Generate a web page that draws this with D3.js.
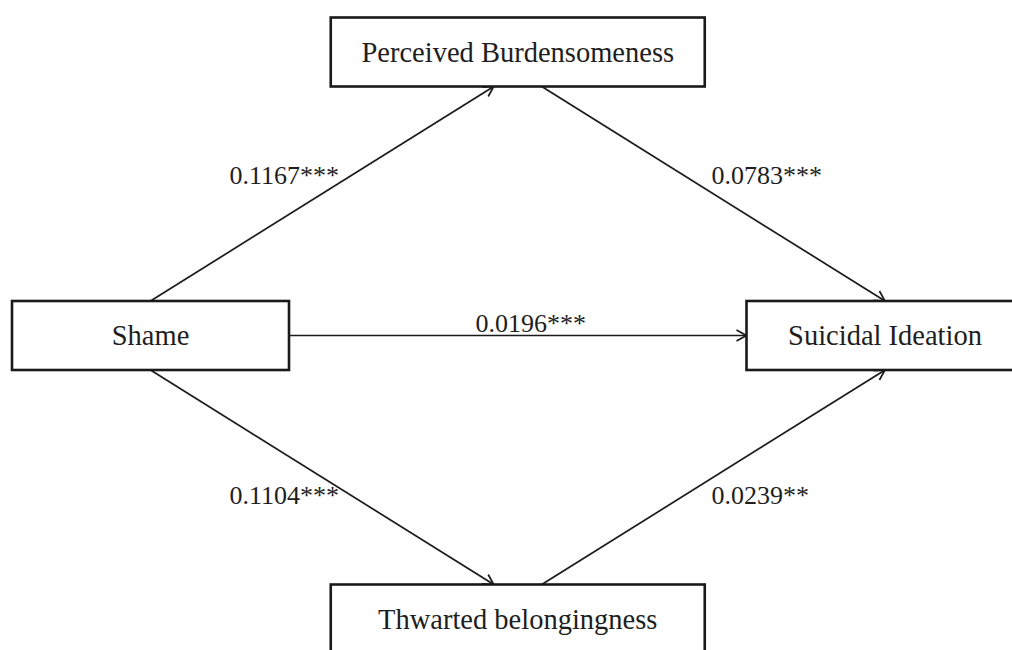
<!DOCTYPE html>
<html>
<head>
<meta charset="utf-8">
<script src="https://cdn.jsdelivr.net/npm/d3@7"></script>
<style>
  html, body { margin: 0; padding: 0; background: #fff; }
  svg { display: block; }
</style>
</head>
<body>
<div id="chart"></div>
<script>
// Nodes on a 3x3 grid (col, row)
const nodeNames = ['Shame', 'Perceived Burdensomeness', 'Suicidal Ideation', 'Thwarted belongingness'];
const nodeCols = [0, 1, 2, 1];
const nodeRows = [1, 0, 1, 2];

// Paths: source index -> target index with coefficient labels
const pathFrom = [0, 1, 0, 0, 3];
const pathTo = [1, 2, 2, 3, 2];
const pathCoef = ['0.1167***', '0.0783***', '0.0196***', '0.1104***', '0.0239**'];

const width = 1012;
const height = 650;

const svg = d3.select('#chart').append('svg')
  .attr('width', width).attr('height', height)
  .attr('viewBox', `0 0 ${width} ${height}`);

const x = d3.scaleLinear().domain([0, 2]).range([150.5, 885]);
const y = d3.scaleLinear().domain([0, 2]).range([52, 619]);

// side boxes are narrower than the middle column ones
const boxW = (col) => (col === 1 ? 374 : 277);
const boxH = 69;

svg.append('defs').append('marker')
  .attr('id', 'arrow')
  .attr('markerUnits', 'userSpaceOnUse')
  .attr('viewBox', '-12 -7 14 14')
  .attr('refX', 0).attr('refY', 0)
  .attr('markerWidth', 14).attr('markerHeight', 14)
  .attr('orient', 'auto')
  .append('path')
  .attr('d', 'M-10,-5.5L0,0L-10,5.5')
  .attr('fill', 'none')
  .attr('stroke', '#1a1a1a')
  .attr('stroke-width', 1.7);

const nodes = nodeNames.map((name, i) => ({
  name,
  cx: x(nodeCols[i]),
  cy: y(nodeRows[i]),
  w: boxW(nodeCols[i]),
}));

// where an edge leaves / enters a box
function anchor(node, other) {
  if (Math.abs(node.cy - other.cy) < 1) {
    // horizontal: use left/right side
    return [node.cx + Math.sign(other.cx - node.cx) * node.w / 2, node.cy];
  }
  const dy = Math.sign(other.cy - node.cy);
  // middle column boxes take edges a bit off centre
  const off = nodeCols[nodes.indexOf(node)] === 1 ? Math.sign(other.cx - node.cx) * 24 : 0;
  return [node.cx + off, node.cy + dy * boxH / 2];
}

const edges = pathFrom.map((f, i) => {
  const s = nodes[f];
  const t = nodes[pathTo[i]];
  const p0 = anchor(s, t);
  const p1 = anchor(t, s);
  return { p0, p1, label: pathCoef[i] };
});

const edgeLayer = svg.append('g');
edgeLayer.selectAll('line').data(edges).join('line')
  .attr('x1', (d) => d.p0[0]).attr('y1', (d) => d.p0[1])
  .attr('x2', (d) => d.p1[0]).attr('y2', (d) => d.p1[1])
  .attr('stroke', '#1a1a1a')
  .attr('stroke-width', 1.7)
  .attr('marker-end', 'url(#arrow)');

// coefficient labels: left half anchored at end, right half at start
edgeLayer.selectAll('text').data(edges).join('text')
  .each(function (d) {
    const mx = (d.p0[0] + d.p1[0]) / 2;
    const my = (d.p0[1] + d.p1[1]) / 2;
    const el = d3.select(this);
    if (Math.abs(d.p0[1] - d.p1[1]) < 1) {
      el.attr('x', mx + 13).attr('y', my - 4).attr('text-anchor', 'middle');
    } else {
      const left = mx < width / 2;
      const up = my < y(1);
      el.attr('x', left ? mx + 17 : mx - 2)
        .attr('y', up ? my - 10 : my + 27)
        .attr('text-anchor', left ? 'end' : 'start');
    }
  })
  .attr('font-family', '"Liberation Serif", "Times New Roman", serif')
  .attr('font-size', 26)
  .attr('fill', '#1e1e1e')
  .text((d) => d.label);

const boxLayer = svg.append('g');
const box = boxLayer.selectAll('g').data(nodes).join('g')
  .attr('transform', (d) => `translate(${d.cx},${d.cy})`);

box.append('rect')
  .attr('x', (d) => -d.w / 2).attr('y', -boxH / 2)
  .attr('width', (d) => d.w).attr('height', boxH)
  .attr('fill', '#fff')
  .attr('stroke', '#1a1a1a')
  .attr('stroke-width', 2.6);

box.append('text')
  .attr('text-anchor', 'middle')
  .attr('dy', '0.34em')
  .attr('font-family', '"Liberation Serif", "Times New Roman", serif')
  .attr('font-size', 28.5)
  .attr('fill', '#1e1e1e')
  .text((d) => d.name);
</script>
</body>
</html>
